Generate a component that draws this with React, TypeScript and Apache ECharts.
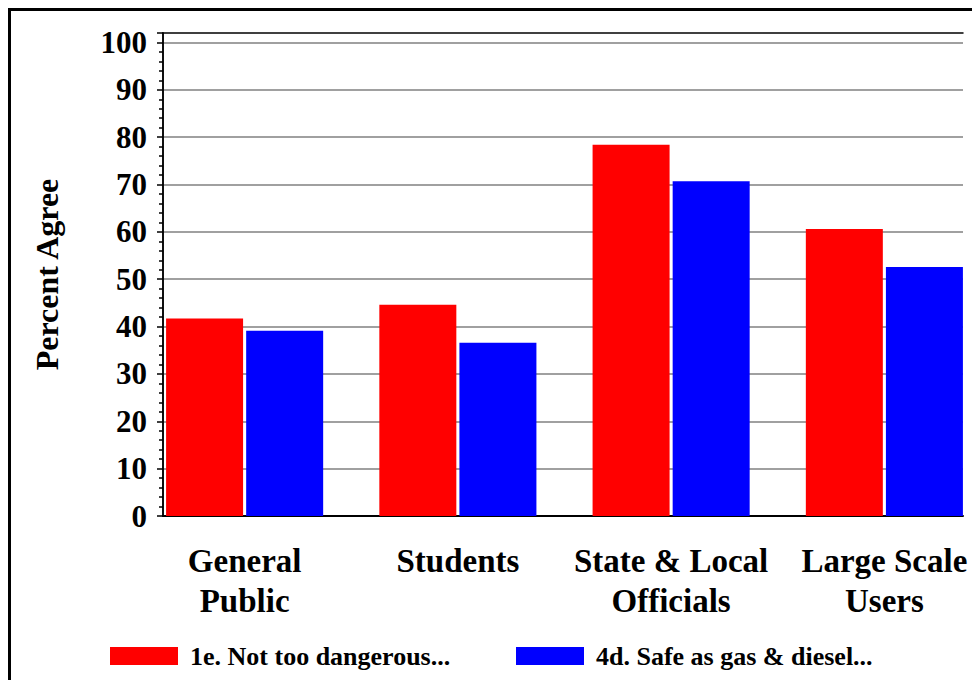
import React, { useEffect, useRef } from "react";
import * as echarts from "echarts";

const categories = ["General\nPublic", "Students", "State & Local\nOfficials", "Large Scale\nUsers"];
const seriesNames = ["1e. Not too dangerous...", "4d. Safe as gas & diesel..."];
const notTooDangerous = [41.7, 44.6, 78.4, 60.6];
const safeAsGas = [39.1, 36.6, 70.7, 52.6];
const yMin = 0;
const yMax = 102;
const yInterval = 10;

const FONT = '"Liberation Serif", "Times New Roman", serif';

export default function App() {
  const ref = useRef<HTMLDivElement>(null);
  useEffect(() => {
    if (!ref.current) return;
    const chart = echarts.init(ref.current, null, { renderer: "svg" });
    const common = { fontFamily: FONT, fontWeight: "bold", color: "#000" };
    chart.setOption({
      animation: false,
      backgroundColor: "#fff",
      graphic: [
        {
          type: "rect",
          shape: { x: 9.5, y: 9.5, width: 1000, height: 700 },
          style: { fill: "none", stroke: "#000", lineWidth: 3 },
          z: 100,
          silent: true,
        },
      ],
      legend: [
        {
          data: [seriesNames[0]],
          left: 105,
          top: 638,
          itemWidth: 68,
          itemHeight: 18,
          icon: "rect",
          textStyle: { ...common, fontSize: 26, padding: [0, 0, 0, 7] },
        },
        {
          data: [seriesNames[1]],
          left: 511,
          top: 638,
          itemWidth: 68,
          itemHeight: 18,
          icon: "rect",
          textStyle: { ...common, fontSize: 26, padding: [0, 0, 0, 7] },
        },
      ],
      grid: [
        { left: 163, top: 33, right: 9, bottom: 164, outerBoundsMode: "none" },
        { left: 138, top: 33, width: 853, bottom: 164, outerBoundsMode: "none" },
      ],
      xAxis: [
        {
          type: "value",
          gridIndex: 0,
          position: "bottom",
          min: 0,
          max: 1,
          axisLine: { show: true, onZero: false, lineStyle: { color: "#000", width: 2 } },
          axisTick: { show: false },
          axisLabel: { show: false },
          splitLine: { show: false },
        },
        {
          type: "value",
          gridIndex: 0,
          position: "top",
          min: 0,
          max: 1,
          axisLine: { show: true, onZero: false, lineStyle: { color: "#000", width: 1.5 } },
          axisTick: { show: false },
          axisLabel: { show: false },
          splitLine: { show: false },
        },
        {
          type: "category",
          gridIndex: 1,
          data: categories,
          axisLine: { show: false },
          axisTick: { show: false },
          axisLabel: {
            ...common,
            fontSize: 33,
            lineHeight: 40,
            margin: 25,
            interval: 0,
            align: "center",
          },
          splitLine: { show: false },
        },
      ],
      yAxis: [
        {
          type: "value",
          gridIndex: 0,
          min: yMin,
          max: yMax,
          interval: yInterval,
          name: "Percent Agree",
          nameLocation: "middle",
          nameGap: 100,
          nameTextStyle: { ...common, fontSize: 32 },
          axisLine: { show: true, lineStyle: { color: "#000", width: 1.5 } },
          axisTick: { show: true, length: 6, lineStyle: { color: "#000", width: 1.5 } },
          minorTick: { show: true, splitNumber: 5, length: 4, lineStyle: { color: "#000", width: 1.5 } },
          axisLabel: {
            ...common,
            fontSize: 31,
            margin: 16,
            showMaxLabel: false,
            formatter: (v: number) => (v % 10 === 0 ? String(v) : ""),
          },
          splitLine: { show: true, showMaxLine: false, lineStyle: { color: "#a0a0a0", width: 2 } },
        },
        {
          type: "value",
          gridIndex: 0,
          position: "right",
          min: yMin,
          max: yMax,
          interval: yInterval,
          axisLine: { show: true, lineStyle: { color: "#000", width: 1.5 } },
          axisTick: { show: false },
          axisLabel: { show: false },
          splitLine: { show: false },
        },
        {
          type: "value",
          gridIndex: 1,
          min: yMin,
          max: yMax,
          interval: yInterval,
          show: false,
          splitLine: { show: false },
        },
      ],
      series: [
        {
          name: seriesNames[0],
          type: "bar",
          xAxisIndex: 2,
          yAxisIndex: 2,
          data: notTooDangerous,
          barWidth: 77,
          barGap: "4%",
          itemStyle: { color: "#ff0000" },
          z: 3,
        },
        {
          name: seriesNames[1],
          type: "bar",
          xAxisIndex: 2,
          yAxisIndex: 2,
          data: safeAsGas,
          barWidth: 77,
          barGap: "4%",
          itemStyle: { color: "#0000ff" },
          z: 3,
        },
      ],
    });
    return () => chart.dispose();
  }, []);
  return (
    <div
      ref={ref}
      style={{ position: "fixed", left: 0, top: 0, width: 972, height: 680 }}
    />
  );
}
